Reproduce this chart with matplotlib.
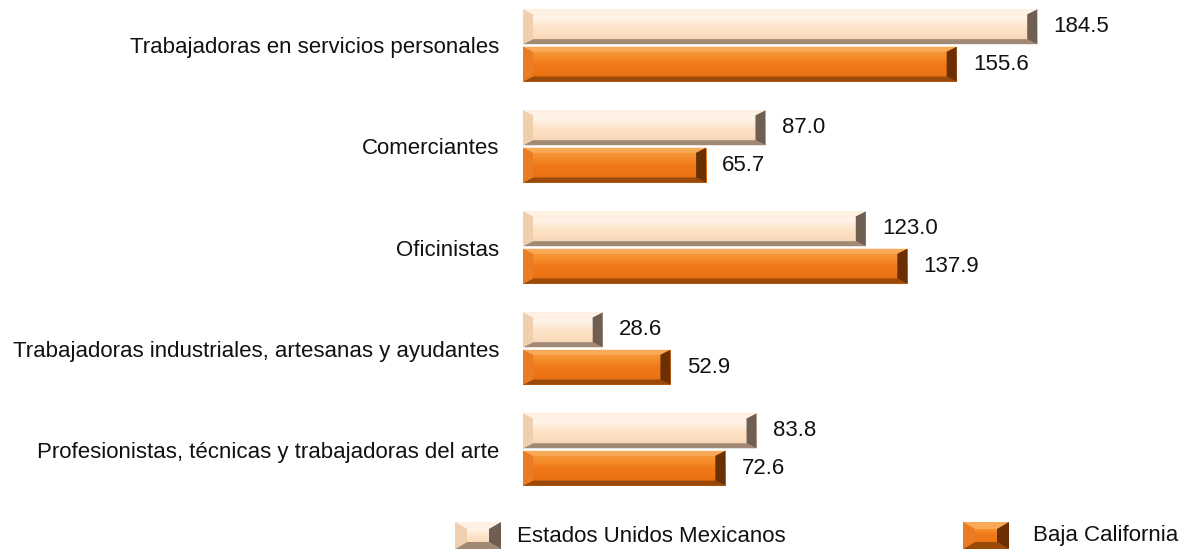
import numpy as np
import matplotlib.pyplot as plt
from matplotlib.patches import Polygon
from matplotlib.colors import LinearSegmentedColormap

plt.rcParams['font.family'] = ['Liberation Sans', 'DejaVu Sans']

categorias = ['Trabajadoras en servicios personales', 'Comerciantes', 'Oficinistas',
              'Trabajadoras industriales, artesanas y ayudantes',
              'Profesionistas, técnicas y trabajadoras del arte']
eum = [184.5, 87.0, 123.0, 28.6, 83.8]
bc = [155.6, 65.7, 137.9, 52.9, 72.6]
series = ['Estados Unidos Mexicanos', 'Baja California']

# style for each series: vertical gradient (top -> bottom), bevel colours
estilos = {
    'eum': dict(grad=['#fde8d2', '#fff4ea', '#fde4ca', '#fcdcbe', '#f0d0ae'],
                top='#fff2e4', left='#f0cfae', bottom='#a08a76', right='#6e5f52'),
    'bc': dict(grad=['#f59a40', '#f6902e', '#f07818', '#ec7414', '#dc680e'],
               top='#f9aa58', left='#ea7c24', bottom='#9a4a08', right='#6a3004'),
}


def bevel_box(ax, x0, y0, w, h, st, bx, by):
    # y0 is the top edge on screen, h grows downward (inverted axes)
    x1, y1 = x0 + w, y0 + h
    cmap = LinearSegmentedColormap.from_list('g', st['grad'])
    grad = np.linspace(0, 1, 64).reshape(-1, 1)
    ax.imshow(grad, cmap=cmap, extent=[x0, x1, y1, y0], aspect='auto',
              origin='upper', zorder=2, interpolation='bilinear')
    bx = min(bx, w / 3)
    ax.add_patch(Polygon([(x0, y0), (x1, y0), (x1 - bx, y0 + by), (x0 + bx, y0 + by)],
                         closed=True, fc=st['top'], ec='none', zorder=3))
    ax.add_patch(Polygon([(x0, y1), (x1, y1), (x1 - bx, y1 - by), (x0 + bx, y1 - by)],
                         closed=True, fc=st['bottom'], ec='none', zorder=3))
    ax.add_patch(Polygon([(x0, y0), (x0 + bx, y0 + by), (x0 + bx, y1 - by), (x0, y1)],
                         closed=True, fc=st['left'], ec='none', zorder=3))
    ax.add_patch(Polygon([(x1, y0), (x1 - bx, y0 + by), (x1 - bx, y1 - by), (x1, y1)],
                         closed=True, fc=st['right'], ec='none', zorder=3))


fig = plt.figure(figsize=(11.83, 5.54), dpi=100)
ax = fig.add_axes([523 / 1183, 59 / 554, 655 / 1183, 495 / 554])

y = np.arange(len(categorias))
h = 0.345
off = 0.185
b1 = ax.barh(y - off, eum, height=h, color='none')
b2 = ax.barh(y + off, bc, height=h, color='none')

for bars, vals, key in [(b1, eum, 'eum'), (b2, bc, 'bc')]:
    for bar, v in zip(bars, vals):
        x0, yb, w, hh = bar.get_x(), bar.get_y(), bar.get_width(), bar.get_height()
        bevel_box(ax, x0, yb, w, hh, estilos[key], 3.6, 0.05)
        ax.text(v + 5.8, yb + hh / 2, f'{v:.1f}', va='center', ha='left',
                fontsize=16, color='#111111')

ax.set_xlim(0, 235)
ax.set_ylim(4.45, -0.45)
ax.set_yticks(y)
ax.set_yticklabels(categorias, fontsize=16, color='#111111')
ax.tick_params(axis='y', length=0, pad=17)
ax.set_xticks([])
for s in ax.spines.values():
    s.set_visible(False)

# legend drawn in pixel-like coordinates
lg = fig.add_axes([0, 0, 1, 1], zorder=-1)
lg.set_xlim(0, 1183)
lg.set_ylim(554, 0)
lg.axis('off')
bevel_box(lg, 455, 522, 46, 27, estilos['eum'], 12, 7)
bevel_box(lg, 963, 522, 46, 27, estilos['bc'], 12, 7)
lg.text(517, 536, series[0], fontsize=16, va='center', ha='left', color='#111111')
lg.text(1033, 536, series[1], fontsize=16, va='center', ha='left', color='#111111')

fig.savefig('out.png', dpi=100)
